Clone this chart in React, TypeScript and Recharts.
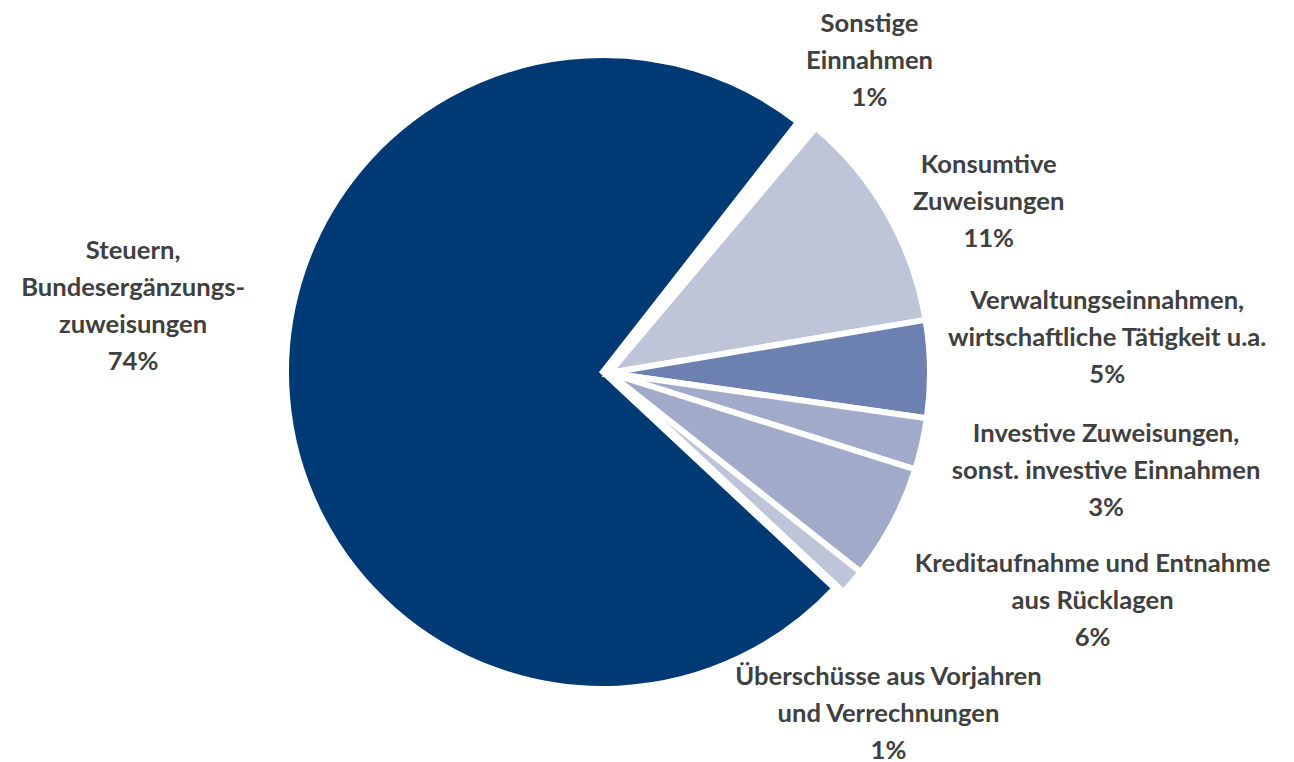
import React from "react";
import { PieChart, Pie, Cell } from "recharts";

const categories = [
  "Sonstige\nEinnahmen",
  "Konsumtive\nZuweisungen",
  "Verwaltungseinnahmen,\nwirtschaftliche Tätigkeit u.a.",
  "Investive Zuweisungen,\nsonst. investive Einnahmen",
  "Kreditaufnahme und Entnahme\naus Rücklagen",
  "Überschüsse aus Vorjahren\nund Verrechnungen",
  "Steuern,\nBundesergänzungs-\nzuweisungen",
];
const shares = [0.6, 11.2, 4.9, 2.6, 5.8, 1.3, 73.6];
const colors = ["#FFFFFF", "#BEC5D9", "#6D80B2", "#A1AAC8", "#A1AAC8", "#BEC5D9", "#003A75"];

// label placement: distance from centre, angular nudge (clockwise degrees) and fine shift
const labelRadius = [408, 414, 499, 508, 533, 440, 482];
const labelNudge = [0.6, 6.2, -2.5, -0.9, -1.8, 10.7, 13.6];
const labelShiftX = [0, 0, 0, 0, 5, 5, 0];
const labelShiftY = [0, -8, -9, -9, -9, -5, 8];

const data = categories.map((name, i) => ({ name, value: shares[i] }));
const DARK = data.length - 1;
const RAD = Math.PI / 180;
const LINE = 37;

const renderLabel = (props: any) => {
  const { cx, cy, midAngle, index, percent, name } = props;
  const ang = midAngle - labelNudge[index];
  const r = labelRadius[index];
  const x = cx + r * Math.cos(-ang * RAD) + labelShiftX[index];
  const y = cy + r * Math.sin(-ang * RAD) + labelShiftY[index];
  const lines = String(name).split("\n").concat([`${Math.round(percent * 100)}%`]);
  const n = lines.length;
  return (
    <text
      key={`lbl-${index}`}
      x={x}
      y={y}
      textAnchor="middle"
      fill="#404040"
      style={{ fontFamily: "Lato, 'Noto Sans', sans-serif", fontWeight: 700, fontSize: 25.6 }}
    >
      {lines.map((l, i) => (
        <tspan key={i} x={x} y={y + (i - (n - 1) / 2) * LINE} dominantBaseline="central">
          {l}
        </tspan>
      ))}
    </text>
  );
};

export default function App() {
  return (
    <div style={{ position: "absolute", left: 0, top: 0, width: 1294, height: 762, background: "#fff" }}>
      <PieChart width={1294} height={762} margin={{ top: 0, right: 0, bottom: 0, left: 0 }}>
        <Pie
          data={data}
          dataKey="value"
          nameKey="name"
          cx={603}
          cy={372}
          outerRadius={317}
          startAngle={52}
          endAngle={-308}
          isAnimationActive={false}
          labelLine={false}
          label={false}
        >
          {data.map((d, i) => (
            <Cell
              key={i}
              fill={i === DARK ? colors[i] : "transparent"}
              stroke={i === DARK ? "#FFFFFF" : "none"}
              strokeWidth={6}
            />
          ))}
        </Pie>
        <Pie
          data={data}
          dataKey="value"
          nameKey="name"
          cx={609}
          cy={373}
          outerRadius={321}
          startAngle={52}
          endAngle={-308}
          isAnimationActive={false}
          labelLine={false}
          label={renderLabel}
        >
          {data.map((d, i) => (
            <Cell
              key={i}
              fill={i === DARK ? "transparent" : colors[i]}
              stroke={i === DARK ? "none" : "#FFFFFF"}
              strokeWidth={6}
            />
          ))}
        </Pie>
      </PieChart>
    </div>
  );
}
